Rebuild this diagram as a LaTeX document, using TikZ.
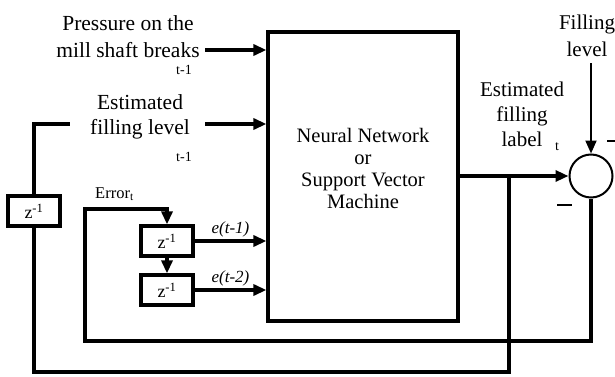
\documentclass[tikz,border=0pt]{standalone}
\usepackage{fontspec}
\setmainfont{Liberation Serif}
\usetikzlibrary{arrows.meta}
\tikzset{
  blk/.style={draw, line width=3.2pt, inner sep=0pt},
  zbox/.style={blk, minimum width=52pt, minimum height=30pt, font=\fontsize{18}{18}\selectfont},
  wire/.style={line width=3.2pt},
  arr/.style={wire, -{Triangle[length=13pt,width=11pt]}},
  lbl/.style={align=center, font=\fontsize{21}{25}\selectfont, inner sep=0pt},
  elbl/.style={font=\fontsize{17}{17}\selectfont\itshape, inner sep=2pt},
  sub/.style={font=\fontsize{14}{14}\selectfont, inner sep=0pt},
}

\begin{document}
\begin{tikzpicture}[x=1pt,y=-1pt]
    \useasboundingbox (0,0) rectangle (615,377);
    \node(nn)[blk, minimum width=190pt, minimum height=289pt] at (363,176.5) {};
    \node(nntext)[lbl, font=\fontsize{20.5}{22}\selectfont] at (363,168) {Neural Network\\or\\Support Vector\\Machine};
    \node(press)[lbl, font=\fontsize{21.5}{27}\selectfont] at (128,37) {Pressure on the\\mill shaft breaks};
    \node(presst)[sub] at (184,70) {t-1};
    \node(estlev)[lbl, font=\fontsize{21.5}{25}\selectfont] at (140,117) {Estimated\\filling level};
    \node(estlevt)[sub] at (184,157) {t-1};
    \node(fill)[lbl, font=\fontsize{21}{27}\selectfont] at (587,36) {Filling\\level};
    \node(estlab)[lbl] at (522,114) {Estimated\\filling\\label};
    \node(estlabt)[sub] at (557,147) {t};
    \node(sum)[draw, circle, line width=2pt, minimum size=43pt, inner sep=0pt] at (591,176) {};
    \node(minusa)[inner sep=0pt] at (564.5,205) {\rule{15pt}{1.8pt}};
    \node(minusb)[inner sep=0pt] at (613,141) {\rule{12pt}{1.8pt}};
    \node(zl)[zbox] at (34,211) {z\textsuperscript{-1}};
    \node(z1)[zbox] at (167,241) {z\textsuperscript{-1}};
    \node(z2)[zbox] at (167,290) {z\textsuperscript{-1}};
    \node(err)[anchor=base west, font=\fontsize{16.5}{16.5}\selectfont, inner sep=0pt] at (95,198) {Error\textsubscript{t}};
    \coordinate(pin) at (205,50);
    \coordinate(ein) at (205,124);
    \coordinate(lend) at (70,124);
    \coordinate(tap) at (509,176);
    \coordinate(ebot) at (85,341);
    \coordinate(eleft) at (85,209);
    \draw[arr] (pin) -- (nn.west |- pin);
    \draw[arr] (ein) -- (nn.west |- ein);
    \draw[arr] (nn.east |- sum) -- (sum.west);
    \draw[arr, line width=2pt, shorten <=6pt] (sum.north |- fill.south) -- (sum.north);
    \draw[wire] (zl.north) |- (lend);
    \draw[wire] (tap) -- ++(0,196) -| (zl.south);
    \draw[arr] (sum.south) |- (ebot) -- (eleft) -| (z1.north);
    \draw[arr] (z1.south) -- (z2.north);
    \draw[arr] (z1.east) -- node[above, elbl] {e(t-1)} (nn.west |- z1.east);
    \draw[arr] (z2.east) -- node[above, elbl] {e(t-2)} (nn.west |- z2.east);
\end{tikzpicture}
\end{document}
